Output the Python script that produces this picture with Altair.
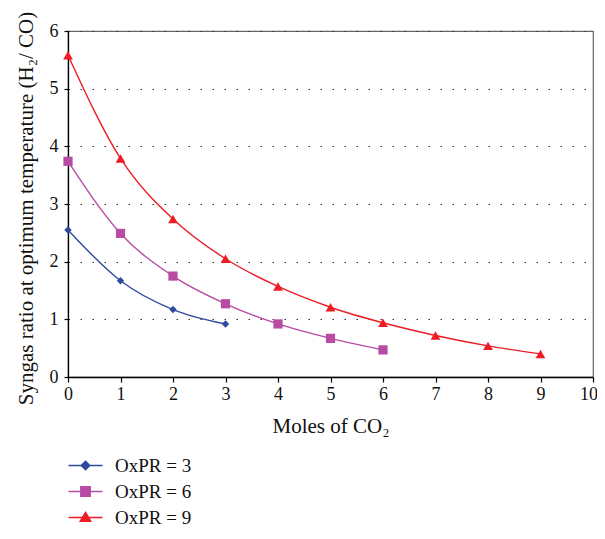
import altair as alt
import pandas as pd

series_names = ["OxPR = 3", "OxPR = 6", "OxPR = 9"]
moles_3 = [0, 1, 2, 3]
ratio_3 = [2.55, 1.67, 1.17, 0.92]
moles_6 = [0, 1, 2, 3, 4, 5, 6]
ratio_6 = [3.74, 2.49, 1.75, 1.27, 0.92, 0.67, 0.47]
moles_9 = [0, 1, 2, 3, 4, 5, 6, 7, 8, 9]
ratio_9 = [5.58, 3.79, 2.74, 2.05, 1.57, 1.21, 0.94, 0.72, 0.54, 0.40]

x_ticks = [0, 1, 2, 3, 4, 5, 6, 7, 8, 9, 10]
y_ticks = [0, 1, 2, 3, 4, 5, 6]

colors = ["#2E4A9E", "#B84BA4", "#EE1C25"]
chart_shapes = ["diamond", "square", "triangle-up"]
chart_sizes = [55, 85, 95]
legend_paths = [
    "M-2,0H2M0,-0.5L0.5,0L0,0.5L-0.5,0Z",
    "M-2,0H2M-0.55,-0.55H0.55V0.55H-0.55Z",
    "M-2,0H2M0,-0.6L0.62,0.45H-0.62Z",
]

rows = []
for name, xs, ys in zip(series_names, [moles_3, moles_6, moles_9], [ratio_3, ratio_6, ratio_9]):
    for xv, yv in zip(xs, ys):
        rows.append({"series": name, "moles": xv, "ratio": yv})
df = pd.DataFrame(rows)

FONT = "Liberation Serif"

x_enc = alt.X(
    "moles:Q",
    scale=alt.Scale(domain=[0, 10], nice=False, zero=False),
    axis=alt.Axis(
        values=x_ticks, title="Moles of CO₂", grid=False, tickSize=5,
        labelPadding=3, titlePadding=12, titleFontSize=21, format="d",
        labelFlush=True, labelFlushOffset=4.5,
    ),
)
y_enc = alt.Y(
    "ratio:Q",
    scale=alt.Scale(domain=[0, 6], nice=False),
    axis=alt.Axis(
        values=y_ticks, title="Syngas ratio at optimum temperature (H₂/ CO)",
        grid=True, gridDash=[1.5, 10.5], gridColor="#333", gridWidth=1.2,
        tickSize=4, labelPadding=6, titlePadding=13, titleFontSize=21,
        titleY=177, format="d", labelFlush=False,
    ),
)

base = alt.Chart(df)

layers = []
for i, (name, col, shp, sz) in enumerate(zip(series_names, colors, chart_shapes, chart_sizes)):
    sub = base.transform_filter(alt.datum.series == name)
    line = sub.mark_line(interpolate="monotone", strokeWidth=1.4, color=col)
    if i == 0:
        line = line.encode(x=x_enc, y=y_enc)
    else:
        line = line.encode(x="moles:Q", y="ratio:Q")
    layers.append(line)
    layers.append(
        sub.mark_point(filled=True, shape=shp, size=sz, color=col, opacity=1)
        .encode(x="moles:Q", y="ratio:Q")
    )

leg = alt.Legend(
    title=None, orient="none", legendX=8, legendY=425, padding=0,
    labelFont=FONT, labelFontSize=19, labelColor="#111",
    symbolSize=289, symbolStrokeWidth=1.5, symbolOpacity=1,
    labelOffset=20, rowPadding=6, direction="vertical",
)
legend_layer = base.mark_point(filled=True, opacity=0).encode(
    x="moles:Q",
    y="ratio:Q",
    fill=alt.Fill("series:N", scale=alt.Scale(domain=series_names, range=colors), legend=leg),
    stroke=alt.Stroke("series:N", scale=alt.Scale(domain=series_names, range=colors), legend=leg),
    shape=alt.Shape("series:N", scale=alt.Scale(domain=series_names, range=legend_paths), legend=leg),
)

chart = alt.layer(*layers, legend_layer).properties(
    width=525,
    height=346,
    autosize=alt.AutoSizeParams(type="none"),
    padding={"left": 60, "top": 23, "right": 4, "bottom": 154},
    background="white",
).configure_axis(
    labelFont=FONT, titleFont=FONT, labelFontSize=18,
    titleFontWeight="normal", labelColor="#111", titleColor="#111",
    domainColor="#000", tickColor="#000", domainWidth=1.3, tickWidth=1.2,
).configure_view(stroke="#666", strokeWidth=1.2)

chart.save("out.html", embed_options={"renderer": "svg", "actions": False})
